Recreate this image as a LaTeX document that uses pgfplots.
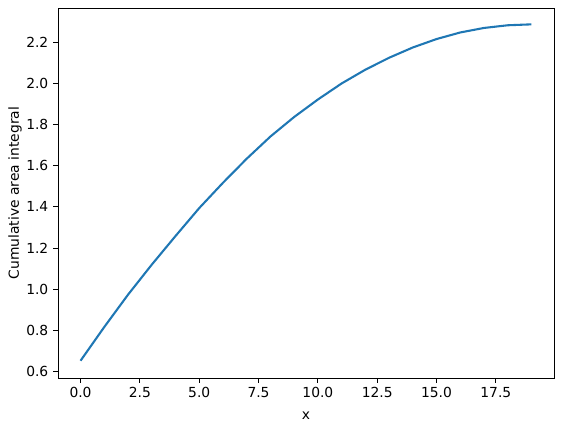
\documentclass[border=0pt]{standalone}
\usepackage{fontspec}
\setmainfont{DejaVu Sans}
\usepackage{pgfplots}
\pgfplotsset{compat=1.18}
\definecolor{mplblue}{HTML}{1F77B4}
\begin{document}
\fontsize{13.9}{16}\selectfont
\begin{tikzpicture}
\path[use as bounding box] (-58bp,-51bp) rectangle (506bp,378bp);
\begin{axis}[
  scale only axis,
  width=496bp, height=370bp,
  xmin=-0.95, xmax=19.95,
  ymin=0.568, ymax=2.367,
  xtick={0,2.5,5,7.5,10,12.5,15,17.5},
  xticklabels={0.0,2.5,5.0,7.5,10.0,12.5,15.0,17.5},
  ytick={0.6,0.8,1.0,1.2,1.4,1.6,1.8,2.0,2.2},
  yticklabels={0.6,0.8,1.0,1.2,1.4,1.6,1.8,2.0,2.2},
  xtick pos=lower, ytick pos=left,
  tick align=outside,
  major tick length=4.9bp,
  tick style={black, line width=0.8pt},
  axis line style={line width=0.8pt},
  /pgf/number format/assume math mode=true,
  ticklabel style={font=\fontsize{13.9}{16}\selectfont},
  label style={font=\fontsize{13.9}{16}\selectfont},
  xlabel={x},
  ylabel={Cumulative area integral},
  xlabel style={yshift=-4bp},
  ylabel style={yshift=-5bp},
]
\addplot[mplblue, line width=2.08bp] coordinates {
(0,0.652) (1,0.816) (2,0.973) (3,1.119) (4,1.258) (5,1.394) (6,1.517)
(7,1.634) (8,1.742) (9,1.837) (10,1.922) (11,2.000) (12,2.067) (13,2.125)
(14,2.175) (15,2.216) (16,2.248) (17,2.270) (18,2.283) (19,2.2875)
};
\end{axis}
\end{tikzpicture}
\end{document}
